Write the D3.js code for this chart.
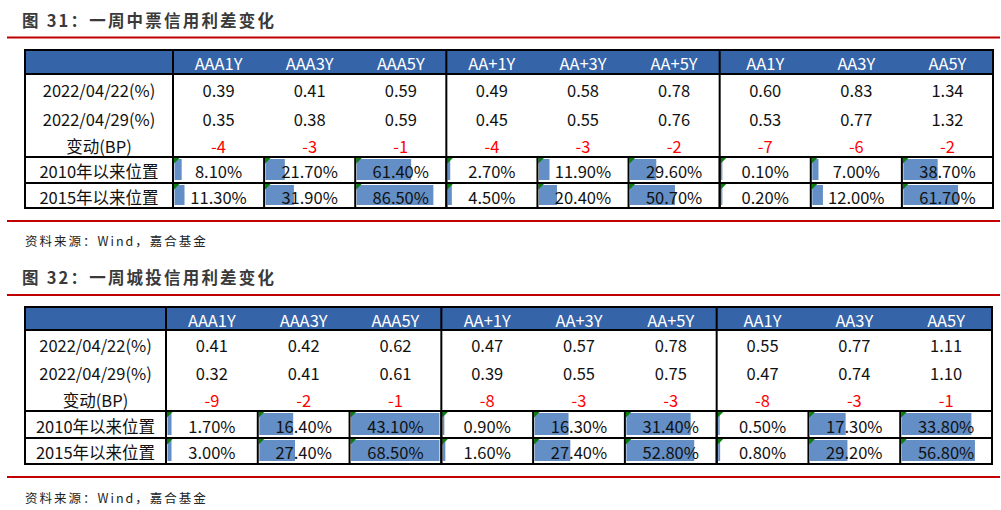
<!DOCTYPE html>
<html><head><meta charset="utf-8">
<script src="https://cdn.jsdelivr.net/npm/d3@7"></script>
<style>body{margin:0;background:#fff;} svg{display:block;}</style>
</head><body><svg id="chart" width="1001" height="510"></svg>
<script>
// ---------- data ----------
const columns = ["AAA1Y","AAA3Y","AAA5Y","AA+1Y","AA+3Y","AA+5Y","AA1Y","AA3Y","AA5Y"];
const rowLabels = ["2022/04/22(%)","2022/04/29(%)","变动(BP)","2010年以来位置","2015年以来位置"];
const title1 = "图 31：一周中票信用利差变化";
const title2 = "图 32：一周城投信用利差变化";
const sourceText = "资料来源：Wind，嘉合基金";

// 表1 中票
const t1Rate0422 = [0.39,0.41,0.59,0.49,0.58,0.78,0.60,0.83,1.34];
const t1Rate0429 = [0.35,0.38,0.59,0.45,0.55,0.76,0.53,0.77,1.32];
const t1ChangeBP = [-4,-3,-1,-4,-3,-2,-7,-6,-2];
const t1Pos2010 = [8.10,21.70,61.40,2.70,11.90,29.60,0.10,7.00,38.70];
const t1Pos2015 = [11.30,31.90,86.50,4.50,20.40,50.70,0.20,12.00,61.70];
// data-bar lengths as shown (percent of cell)
const t1Bar2010 = t1Pos2010;
const t1Bar2015 = t1Pos2015;

// 表2 城投
const t2Rate0422 = [0.41,0.42,0.62,0.47,0.57,0.78,0.55,0.77,1.11];
const t2Rate0429 = [0.32,0.41,0.61,0.39,0.55,0.75,0.47,0.74,1.10];
const t2ChangeBP = [-9,-2,-1,-8,-3,-3,-8,-3,-1];
const t2Pos2010 = [1.70,16.40,43.10,0.90,16.30,31.40,0.50,17.30,33.80];
const t2Pos2015 = [3.00,27.40,68.50,1.60,27.40,52.80,0.80,29.20,56.80];
// data-bar lengths as drawn in the picture (percent of cell)
const t2Bar2010 = [4.5,38,99,1.7,38,72,1.7,40,78];
const t2Bar2015 = [4.5,40,99,2.8,40,76,2.2,42,82];

// ---------- layout ----------
const svg = d3.select("#chart");
const RED = "#C00000", BLUE = "#3664A9", BAR = "#638EC6", GREEN = "#0A7D0A";
const FONT = "'Noto Sans CJK SC','Noto Sans',sans-serif";
const FS = 16.5;

const tables = [
  { title: title1, titleY: 20, topLine: 37.5, bottomLine: 221, sourceY: 240,
    left: 25, labelRight: 173, right: 993,
    rows: [50,74,103,132,157,183,208],
    r0422: t1Rate0422, r0429: t1Rate0429, bp: t1ChangeBP,
    p2010: t1Pos2010, p2015: t1Pos2015, b2010: t1Bar2010, b2015: t1Bar2015 },
  { title: title2, titleY: 277, topLine: 295, bottomLine: 477, sourceY: 497,
    left: 25, labelRight: 166, right: 992,
    rows: [307,330,358,386,411,438,464],
    r0422: t2Rate0422, r0429: t2Rate0429, bp: t2ChangeBP,
    p2010: t2Pos2010, p2015: t2Pos2015, b2010: t2Bar2010, b2015: t2Bar2015 }
];

tables.forEach(t => {
  const g = svg.append("g");
  // title
  g.append("text").attr("x", 22).attr("y", t.titleY)
    .attr("dominant-baseline","central")
    .attr("font-family", FONT).attr("font-weight", 700).attr("font-size", 16.5)
    .attr("letter-spacing", "2.2px").attr("fill", "#3a3a3a").text(t.title);
  // red rules
  [t.topLine, t.bottomLine].forEach(y => {
    g.append("line").attr("x1", 7).attr("x2", 1000).attr("y1", y).attr("y2", y)
      .attr("stroke", RED).attr("stroke-width", 2.2);
  });
  // source
  g.append("text").attr("x", 25).attr("y", t.sourceY)
    .attr("dominant-baseline","central")
    .attr("font-family", FONT).attr("font-size", 12.5).attr("letter-spacing","2px")
    .attr("fill", "#222").text(sourceText);

  const x = d3.scaleBand().domain(columns).range([t.labelRight, t.right]).padding(0);
  const bw = x.bandwidth();
  const barScale = d3.scaleLinear().domain([0,100]).range([0, bw - 2.5]);
  const R = t.rows;
  const cy = i => (R[i] + R[i+1]) / 2;

  // header background
  g.append("rect").attr("x", t.left).attr("y", R[0])
    .attr("width", t.right - t.left).attr("height", R[1] - R[0]).attr("fill", BLUE);

  // header labels
  g.selectAll(null).data(columns).join("text")
    .attr("x", d => x(d) + bw/2).attr("y", cy(0) + 1)
    .attr("text-anchor","middle").attr("dominant-baseline","central")
    .attr("font-family", FONT).attr("font-size", FS).attr("fill", "#fff").text(d => d);

  // data bars (rows 4,5)
  const barRows = [{vals: t.b2010, ri: 4}, {vals: t.b2015, ri: 5}];
  barRows.forEach(br => {
    g.selectAll(null).data(columns).join("rect")
      .attr("x", d => x(d) + 1.5)
      .attr("y", R[br.ri] + 2)
      .attr("width", (d,i) => Math.max(1.2, barScale(br.vals[i])))
      .attr("height", R[br.ri+1] - R[br.ri] - 5)
      .attr("fill", BAR);
    // green indicator triangles
    g.selectAll(null).data(columns).join("path")
      .attr("d", d => {
        const x0 = x(d) + 1, y0 = R[br.ri] + 1;
        return `M${x0},${y0}L${x0+5.5},${y0}L${x0},${y0+5.5}Z`;
      })
      .attr("fill", GREEN);
  });

  // row labels
  g.selectAll(null).data(rowLabels).join("text")
    .attr("x", (t.left + t.labelRight)/2).attr("y", (d,i) => cy(i+1) + 1)
    .attr("text-anchor","middle").attr("dominant-baseline","central")
    .attr("font-family", FONT).attr("font-size", FS).attr("fill", "#111").text(d => d);

  // cell values
  const valueRows = [
    {vals: t.r0422, fmt: d3.format(".2f"), color: "#111", ri: 1},
    {vals: t.r0429, fmt: d3.format(".2f"), color: "#111", ri: 2},
    {vals: t.bp, fmt: d => String(d).replace("−","-"), color: "#FF0000", ri: 3},
    {vals: t.p2010, fmt: d => d3.format(".2f")(d) + "%", color: "#111", ri: 4},
    {vals: t.p2015, fmt: d => d3.format(".2f")(d) + "%", color: "#111", ri: 5}
  ];
  valueRows.forEach(vr => {
    g.selectAll(null).data(columns).join("text")
      .attr("x", d => x(d) + bw/2).attr("y", cy(vr.ri) + 1)
      .attr("text-anchor","middle").attr("dominant-baseline","central")
      .attr("font-family", FONT).attr("font-size", FS).attr("fill", vr.color)
      .text((d,i) => vr.fmt(vr.vals[i]));
  });

  // grid lines
  const lines = g.append("g").attr("stroke", "#000").attr("stroke-width", 2);
  // horizontal
  [R[0], R[1], R[4], R[5], R[6]].forEach(y => {
    lines.append("line").attr("x1", t.left - 1).attr("x2", t.right + 1).attr("y1", y).attr("y2", y);
  });
  // full-height verticals
  const groupEdges = [t.left, t.labelRight, x(columns[3]), x(columns[6]), t.right];
  groupEdges.forEach(xx => {
    lines.append("line").attr("x1", xx).attr("x2", xx).attr("y1", R[0]).attr("y2", R[6]);
  });
  // verticals for bottom two rows
  columns.forEach(c => {
    lines.append("line").attr("x1", x(c)).attr("x2", x(c)).attr("y1", R[4]).attr("y2", R[6]);
  });
});
</script>
</body></html>
